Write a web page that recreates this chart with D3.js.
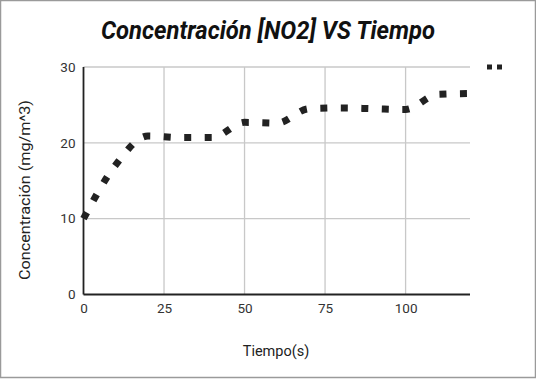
<!DOCTYPE html>
<html><head><meta charset="utf-8">
<script src="https://cdn.jsdelivr.net/npm/d3@7"></script>
<style>body{margin:0;background:#fff}svg{display:block}</style>
</head><body>
<script>
const tiempo = [0, 10, 20, 30, 40, 50, 60, 70, 80, 90, 100, 110, 120];
const concentracion = [10, 17.1, 20.9, 20.7, 20.7, 22.7, 22.6, 24.5, 24.6, 24.5, 24.4, 26.4, 26.5];
const xTicks = [0, 25, 50, 75, 100];
const yTicks = [0, 10, 20, 30];
const title = "Concentración [NO2] VS Tiempo";
const xTitle = "Tiempo(s)";
const yTitle = "Concentración (mg/m^3)";

const W = 536, H = 379;
const svg = d3.select("body").append("svg").attr("width", W).attr("height", H);
svg.append("rect").attr("x", 0.5).attr("y", 0.5).attr("width", W - 1).attr("height", H - 2)
  .attr("fill", "#fff").attr("stroke", "#9a9a9a").attr("stroke-width", 1.5);

const x = d3.scaleLinear().domain([0, 120]).range([83.5, 470]);
const y = d3.scaleLinear().domain([0, 30]).range([294.5, 67]);

const font = "Roboto, sans-serif";
// grid
svg.append("g").selectAll("line").data(xTicks.filter(d => d > 0)).join("line")
  .attr("x1", d => x(d)).attr("x2", d => x(d)).attr("y1", y(30)).attr("y2", y(0))
  .attr("stroke", "#c8c8c8").attr("stroke-width", 1.3);
svg.append("g").selectAll("line").data(yTicks.filter(d => d > 0)).join("line")
  .attr("x1", x(0)).attr("x2", x(120)).attr("y1", d => y(d)).attr("y2", d => y(d))
  .attr("stroke", "#c8c8c8").attr("stroke-width", 1.3);

// axes
const xAxis = svg.append("g").attr("transform", `translate(0,${y(0)})`)
  .call(d3.axisBottom(x).tickValues(xTicks).tickSize(0).tickPadding(9));
const yAxis = svg.append("g").attr("transform", `translate(${x(0)},0)`)
  .call(d3.axisLeft(y).tickValues(yTicks).tickSize(0).tickPadding(8));
[xAxis, yAxis].forEach(a => {
  a.select(".domain").attr("stroke", "#222").attr("stroke-width", 1.8);
  a.selectAll("text").attr("font-family", font).attr("font-size", 13.5).attr("fill", "#333");
});
xAxis.select(".domain").attr("d", `M${x(0)},0H${x(120)}`);
yAxis.select(".domain").attr("d", `M0,${y(0)}V${y(30)}`);

// line
const line = d3.line().x((d, i) => x(tiempo[i])).y(d => y(d)).curve(d3.curveMonotoneX);
svg.append("path").datum(concentracion).attr("d", line)
  .attr("fill", "none").attr("stroke", "#222").attr("stroke-width", 7)
  .attr("stroke-dasharray", "7,13.5").attr("stroke-linecap", "butt");

// legend marker
svg.append("line").attr("x1", 487).attr("x2", 502).attr("y1", 67).attr("y2", 67)
  .attr("stroke", "#222").attr("stroke-width", 5).attr("stroke-dasharray", "5,5");

// titles
svg.append("text").attr("x", 268).attr("y", 39).attr("text-anchor", "middle")
  .attr("font-family", font).attr("font-size", 26).attr("font-weight", "bold")
  .attr("font-style", "italic").attr("fill", "#111")
  .attr("textLength", 334).attr("lengthAdjust", "spacingAndGlyphs").text(title);
svg.append("text").attr("x", 276).attr("y", 356).attr("text-anchor", "middle")
  .attr("font-family", font).attr("font-size", 14.5).attr("fill", "#222").text(xTitle);
svg.append("text").attr("transform", "translate(30,190) rotate(-90)").attr("text-anchor", "middle")
  .attr("font-family", font).attr("font-size", 15).attr("fill", "#222")
  .attr("textLength", 180).attr("lengthAdjust", "spacingAndGlyphs").text(yTitle);
</script>
</body></html>
